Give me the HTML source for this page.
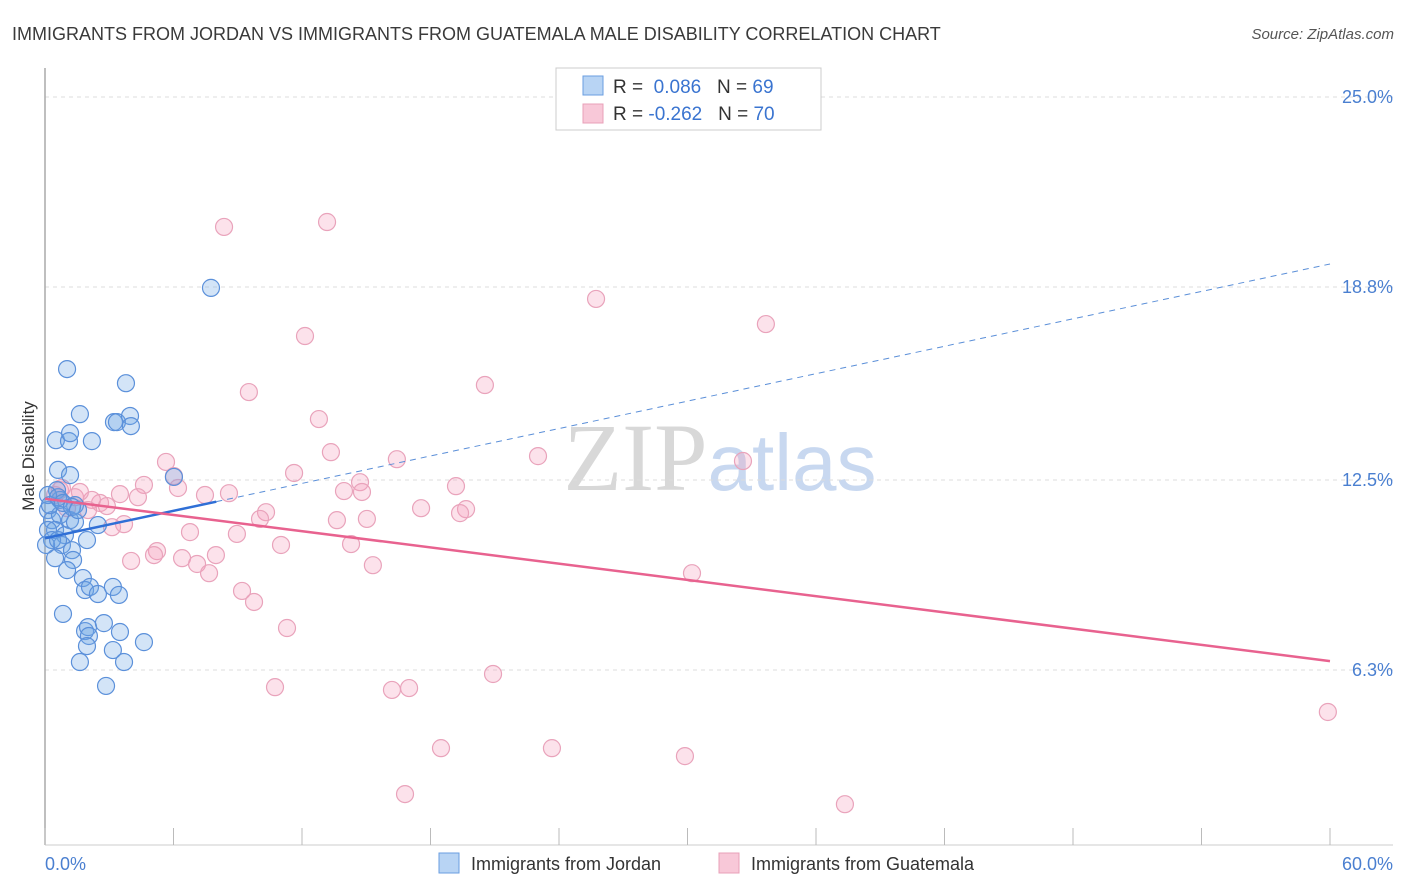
<!DOCTYPE html>
<html><head><meta charset="utf-8"><style>
body{margin:0;background:#fff;font-family:"Liberation Sans",sans-serif;}
svg{display:block}
</style></head><body>
<svg id="chart" width="1406" height="892" xmlns="http://www.w3.org/2000/svg">
<text x="12" y="40" font-size="18" fill="#3a3a3a">IMMIGRANTS FROM JORDAN VS IMMIGRANTS FROM GUATEMALA MALE DISABILITY CORRELATION CHART</text>
<text x="1394" y="39" font-size="15" fill="#555" text-anchor="end" font-style="italic">Source: ZipAtlas.com</text>
<text x="720" y="490" font-size="96" text-anchor="middle"><tspan fill="#d8d8d8" font-family="Liberation Serif">ZIP</tspan><tspan fill="#c8d8f0" font-size="80">atlas</tspan></text>
<g id="grid"></g>
<line x1="45" y1="68" x2="45" y2="845" stroke="#aaa" stroke-width="1.5"/>
<line x1="45" y1="845" x2="1393" y2="845" stroke="#ccc" stroke-width="1"/>
<g id="xticks"></g>
<text transform="translate(34,456) rotate(-90)" font-size="17" fill="#333" text-anchor="middle">Male Disability</text>
<text x="45" y="870" font-size="18" fill="#4a7fd0">0.0%</text>
<text x="1393" y="870" font-size="18" fill="#4a7fd0" text-anchor="end">60.0%</text>
<g id="points"></g>
<g id="lines"></g>
<g>
<rect x="556" y="68" width="265" height="62" fill="#fff" stroke="#ccc"/>
<rect x="583" y="76" width="20" height="19" fill="#b8d4f4" stroke="#6a9ee0"/>
<rect x="583" y="104" width="20" height="19" fill="#f8c8d8" stroke="#e8a0b8"/>
<text x="613" y="93" font-size="19" fill="#333">R = <tspan fill="#3a74d0">&#160;0.086</tspan>&#160;&#160;&#160;N = <tspan fill="#3a74d0">69</tspan></text>
<text x="613" y="120" font-size="19" fill="#333">R = <tspan fill="#3a74d0">-0.262</tspan>&#160;&#160;&#160;N = <tspan fill="#3a74d0">70</tspan></text>
</g>
<g>
<rect x="439" y="853" width="20" height="20" fill="#b8d4f4" stroke="#6a9ee0"/>
<text x="471" y="870" font-size="18" fill="#333">Immigrants from Jordan</text>
<rect x="719" y="853" width="20" height="20" fill="#f8c8d8" stroke="#e8a0b8"/>
<text x="751" y="870" font-size="18" fill="#333">Immigrants from Guatemala</text>
</g>
</svg>
<script>
const yTicks=[25.0,18.8,12.5,6.3];
const yTickLabels=["25.0%","18.8%","12.5%","6.3%"];
const xTicks=[0,6,12,18,24,30,36,42,48,54,60];
const jordanX=[1.03,3.78,1.63,3.22,3.36,3.97,4.01,0.51,1.12,2.19,1.17,0.61,1.17,0.56,0.70,1.40,0.14,0.33,0.70,1.17,0.47,0.93,1.40,2.47,0.14,1.96,0.79,1.26,0.47,1.31,1.03,1.77,1.87,2.10,2.47,3.17,3.45,0.84,1.87,2.01,2.05,2.75,3.50,1.96,3.17,1.63,3.69,2.85,4.62,7.75,6.02,0.14,0.23,0.61,0.84,0.33,1.26,1.54,0.05,0.61];
const jordanY=[16.12,15.66,14.65,14.39,14.39,14.59,14.26,13.80,13.77,13.77,14.03,12.83,12.66,12.17,11.85,11.68,11.52,11.19,11.36,11.19,10.87,10.70,11.13,11.03,10.87,10.54,10.38,10.21,9.95,9.89,9.56,9.30,8.91,9.01,8.78,9.01,8.75,8.13,7.57,7.70,7.41,7.83,7.54,7.08,6.95,6.56,6.56,5.78,7.21,18.77,12.60,12.01,11.68,11.94,11.75,10.54,11.62,11.52,10.38,10.54];
const guatX=[8.36,13.17,25.73,33.66,12.14,20.54,9.52,12.79,13.35,16.43,23.02,32.59,5.65,11.63,6.02,14.71,19.19,4.62,6.21,7.47,8.59,13.96,14.80,3.50,4.34,0.70,1.40,2.57,2.19,2.89,1.03,10.32,17.56,19.66,19.38,10.04,13.63,15.03,3.69,3.13,8.96,6.77,11.02,14.29,5.23,5.09,7.98,6.40,7.10,4.02,15.31,7.66,30.21,9.20,9.76,11.30,10.74,17.00,20.92,16.20,18.49,23.67,29.88,16.81,37.35,59.90,1.63,2.01,0.47,0.79];
const guatY=[20.76,20.92,18.41,17.59,17.20,15.60,15.37,14.49,13.41,13.18,13.28,13.12,13.09,12.73,12.63,12.43,12.30,12.34,12.24,12.01,12.07,12.14,12.11,12.04,11.94,12.17,11.94,11.75,11.85,11.65,11.58,11.45,11.58,11.55,11.42,11.23,11.19,11.23,11.06,10.96,10.74,10.80,10.38,10.41,10.18,10.05,10.05,9.95,9.76,9.86,9.72,9.46,9.46,8.88,8.52,7.67,5.74,5.71,6.17,5.65,3.75,3.75,3.49,2.25,1.92,4.93,12.11,11.52,12.01,12.24];
const jordanTrend=[10.60,19.55];
const guatTrend=[11.89,6.59];
const NS="http://www.w3.org/2000/svg";
const X=v=>45+v*(1285/60);
const Y=v=>670-(v-6.3)*(573/18.7);
function mk(t,a,p){const e=document.createElementNS(NS,t);for(const k in a)e.setAttribute(k,a[k]);p.appendChild(e);return e;}
const grid=document.getElementById('grid');
yTicks.forEach((t,i)=>{
const l=mk('line',{x1:45,x2:1393,y1:Y(t),y2:Y(t),stroke:'#ddd','stroke-dasharray':'4,4'},grid);


const tx=mk('text',{x:1393,y:Y(t)+6,'font-size':18,fill:'#4a7fd0','text-anchor':'end'},grid);
tx.textContent=yTickLabels[i];


});
const xt=document.getElementById('xticks');
xTicks.forEach(t=>{
const l=mk('line',{x1:X(t),x2:X(t),y1:828,y2:845,stroke:'#bbb'},xt);


});
const pts=document.getElementById('points');
guatX.forEach((x,i)=>{
const c=mk('circle',{cx:X(x),cy:Y(guatY[i]),r:8.5,fill:'rgba(244,160,190,0.3)',stroke:'#e9a3bb','stroke-width':1.2},pts);


});
jordanX.forEach((x,i)=>{
const c=mk('circle',{cx:X(x),cy:Y(jordanY[i]),r:8.5,fill:'rgba(110,165,230,0.3)',stroke:'#5b90da','stroke-width':1.2},pts);


});
const ln=document.getElementById('lines');
const jy=x=>jordanTrend[0]+(jordanTrend[1]-jordanTrend[0])*x/60;
let a=mk('line',{x1:X(0),y1:Y(jy(0)),x2:X(8),y2:Y(jy(8)),stroke:'#2f6fd6','stroke-width':2.5},ln);


a=mk('line',{x1:X(8),y1:Y(jy(8)),x2:X(60),y2:Y(jy(60)),stroke:'#5b8fd8','stroke-width':1,'stroke-dasharray':'6,5'},ln);


a=mk('line',{x1:X(0),y1:Y(guatTrend[0]),x2:X(60),y2:Y(guatTrend[1]),stroke:'#e8628f','stroke-width':2.5},ln);


</script>
</body></html>
